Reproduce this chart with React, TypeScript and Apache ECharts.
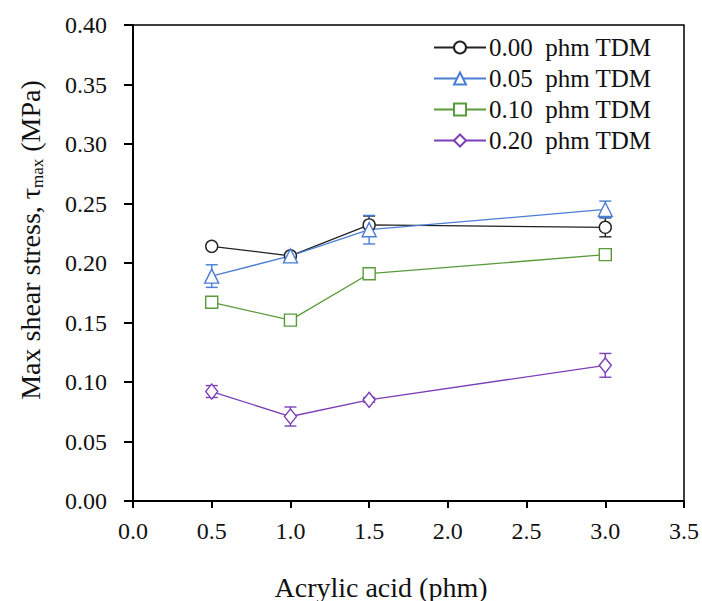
import React, { useEffect, useRef } from "react";
import * as echarts from "echarts";

const acrylic = [0.5, 1.0, 1.5, 3.0];
const seriesNames = ["0.00  phm TDM", "0.05  phm TDM", "0.10  phm TDM", "0.20  phm TDM"];
const tdm000 = [0.214, 0.206, 0.232, 0.23];
const tdm005 = [0.189, 0.206, 0.228, 0.245];
const tdm010 = [0.167, 0.152, 0.191, 0.207];
const tdm020 = [0.092, 0.071, 0.085, 0.114];
const err000 = [0, 0, 0.0075, 0.008];
const err005 = [0.0095, 0.002, 0.012, 0.007];
const err010 = [0, 0, 0, 0];
const err020 = [0.005, 0.008, 0.002, 0.01];

const colors = ["#222222", "#4a7dd4", "#5a9a3a", "#7b3fb8"];
const symbols = ["circle", "triangle", "rect", "diamond"];
const symbolSizes: any[] = [12, 14, 12, [12, 15]];
const values = [tdm000, tdm005, tdm010, tdm020];
const errors = [err000, err005, err010, err020];

const FONT = "Liberation Serif";

export default function App() {
  const ref = useRef<HTMLDivElement>(null);
  useEffect(() => {
    if (!ref.current) return;
    const chart = echarts.init(ref.current, undefined, { renderer: "svg" });
    const lineSeries = values.map((vals, k) => ({
      type: "line",
      name: seriesNames[k],
      data: acrylic.map((x, i) => [x, vals[i]]),
      symbol: symbols[k],
      symbolSize: symbolSizes[k],
      showAllSymbol: true,
      z: 3,
      lineStyle: { color: colors[k], width: 1.3 },
      itemStyle: { color: "#ffffff", borderColor: colors[k], borderWidth: 1.4 },
    }));
    const errSeries = values.map((vals, k) => ({
      type: "custom",
      name: seriesNames[k] + " err",
      z: 2,
      data: acrylic
        .map((x, i) => [x, vals[i] - errors[k][i], vals[i] + errors[k][i], errors[k][i]])
        .filter((d) => d[3] > 0),
      renderItem: (params: any, api: any) => {
        const x = api.value(0);
        const lo = api.coord([x, api.value(1)]);
        const hi = api.coord([x, api.value(2)]);
        const w = 6;
        const style = { stroke: colors[k], lineWidth: 1.4 };
        return {
          type: "group",
          children: [
            { type: "line", shape: { x1: lo[0], y1: lo[1], x2: hi[0], y2: hi[1] }, style },
            { type: "line", shape: { x1: lo[0] - w, y1: lo[1], x2: lo[0] + w, y2: lo[1] }, style },
            { type: "line", shape: { x1: hi[0] - w, y1: hi[1], x2: hi[0] + w, y2: hi[1] }, style },
          ],
        };
      },
      encode: { x: 0, y: [1, 2] },
    }));

    chart.setOption({
      animation: false,
      backgroundColor: "#ffffff",
      textStyle: { fontFamily: FONT },
      grid: {
        left: 133,
        right: 17,
        top: 25,
        bottom: 100,
        show: true,
        borderColor: "#000",
        borderWidth: 1.5,
        backgroundColor: "transparent",
      },
      legend: {
        orient: "vertical",
        left: 433,
        top: 35,
        padding: 0,
        itemWidth: 52,
        itemHeight: 15,
        itemGap: 6,
        data: seriesNames,
        textStyle: { fontFamily: FONT, fontSize: 25, color: "#111", padding: [0, 0, 0, -2] },
      },
      xAxis: {
        type: "value",
        min: 0,
        max: 3.5,
        interval: 0.5,
        axisLine: { show: true, lineStyle: { color: "#000", width: 2 } },
        axisTick: { show: true, inside: false, length: 7, lineStyle: { color: "#000", width: 2 } },
        splitLine: { show: false },
        axisLabel: {
          fontFamily: FONT,
          fontSize: 24,
          color: "#111",
          margin: 18,
          formatter: (v: number) => v.toFixed(1),
        },
      },
      yAxis: {
        type: "value",
        min: 0,
        max: 0.4,
        interval: 0.05,
        axisLine: { show: true, lineStyle: { color: "#000", width: 2 } },
        axisTick: { show: true, inside: false, length: 9, lineStyle: { color: "#000", width: 2 } },
        splitLine: { show: false },
        axisLabel: {
          fontFamily: FONT,
          fontSize: 24,
          color: "#111",
          margin: 26,
          formatter: (v: number) => v.toFixed(2),
        },
      },
      graphic: [
        {
          type: "text",
          x: 381,
          y: 587,
          style: {
            text: "Acrylic acid (phm)",
            fontFamily: FONT,
            fontSize: 28,
            fill: "#111",
            align: "center",
            verticalAlign: "middle",
          },
        },
        {
          type: "text",
          x: 30,
          y: 240,
          rotation: Math.PI / 2,
          style: {
            text: "{a|Max shear stress, τ}{b|max}{a| (MPa)}",
            align: "center",
            verticalAlign: "middle",
            fill: "#111",
            rich: {
              a: { fontFamily: FONT, fontSize: 28, fill: "#111", lineHeight: 32, verticalAlign: "middle" },
              b: { fontFamily: FONT, fontSize: 17, fill: "#111", lineHeight: 32, verticalAlign: "bottom" },
            },
          },
        },
      ],
      series: [...errSeries, ...lineSeries],
    });
    return () => chart.dispose();
  }, []);
  return <div ref={ref} style={{ width: 702, height: 601, position: "absolute", left: 0, top: 0 }} />;
}
